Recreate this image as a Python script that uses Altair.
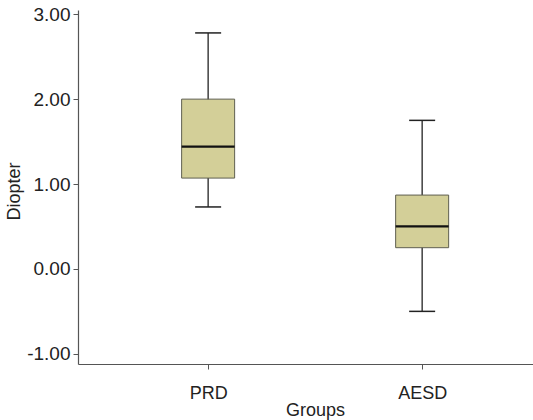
import altair as alt
import pandas as pd

groups = ["PRD", "AESD"]
whisker_low = [0.73, -0.50]
q1 = [1.07, 0.25]
median = [1.44, 0.50]
q3 = [2.00, 0.87]
whisker_high = [2.78, 1.75]

df = pd.DataFrame({
    "Groups": groups,
    "lo": whisker_low,
    "q1": q1,
    "med": median,
    "q3": q3,
    "hi": whisker_high,
})

FONT = "Liberation Sans"
xscale = alt.Scale(type="point", domain=groups, padding=0.563, align=0.54)
yscale = alt.Scale(domain=[-1.12, 3.05], nice=False, zero=False)

xenc = alt.X("Groups:N", scale=xscale, sort=groups,
             axis=alt.Axis(title="Groups", labelAngle=0, labelFontSize=18,
                           labelBaseline="alphabetic", labelPadding=29,
                           titleX=237, titleY=51, titleBaseline="alphabetic",
                           titleAnchor="middle", titleAlign="center"))
base = alt.Chart(df)

whisker = base.mark_rule(color="#222222", strokeWidth=1.3).encode(
    x=xenc,
    y=alt.Y("lo:Q", scale=yscale,
            axis=alt.Axis(title="Diopter", values=[-1, 0, 1, 2, 3],
                          labelExpr="datum.value < 0 ? '-' + format(-datum.value, '.2f') : format(datum.value, '.2f')",
                          labelFontSize=19, labelPadding=3,
                          titleX=-64, titleY=181, titleAngle=-90,
                          titleAlign="center", titleBaseline="middle")),
    y2="hi:Q",
)
box = base.mark_bar(size=53, color="#d3cf98", stroke="#5f5f50", strokeWidth=1, opacity=1).encode(
    x=xenc, y=alt.Y("q1:Q", scale=yscale), y2="q3:Q"
)
med = base.mark_tick(size=53, thickness=2.2, color="#111111", opacity=1).encode(
    x=xenc, y=alt.Y("med:Q", scale=yscale)
)
cap_lo = base.mark_tick(size=26, thickness=1.5, color="#222222", opacity=1).encode(
    x=xenc, y=alt.Y("lo:Q", scale=yscale)
)
cap_hi = base.mark_tick(size=26, thickness=1.5, color="#222222", opacity=1).encode(
    x=xenc, y=alt.Y("hi:Q", scale=yscale)
)

chart = alt.layer(whisker, box, med, cap_lo, cap_hi).properties(
    width=455, height=354,
    autosize=alt.AutoSizeParams(type="none"),
    padding={"left": 78, "top": 10, "right": 0, "bottom": 56},
).configure_view(stroke=None).configure_axis(
    grid=False, domainColor="#555555", tickColor="#555555", tickSize=5,
    labelFont=FONT, titleFont=FONT, titleFontSize=18,
    labelColor="#222222", titleColor="#222222", titleFontWeight="normal",
    domainWidth=1.2,
)

chart.save("out.html", embed_options={"renderer": "svg", "actions": False})
